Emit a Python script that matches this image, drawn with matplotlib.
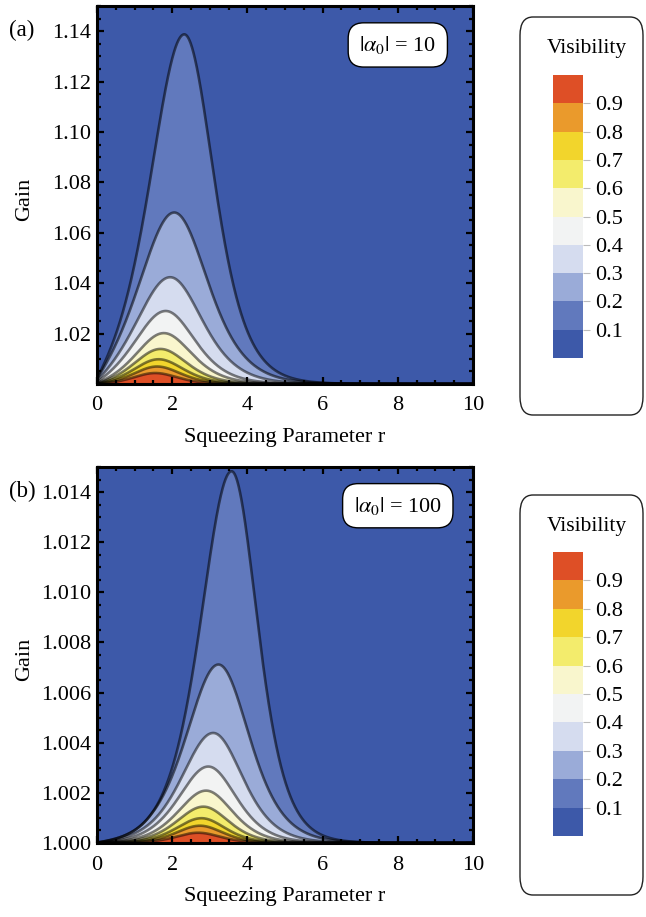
"""Visibility contour maps vs squeezing parameter and gain, two coherent amplitudes."""

import numpy as np
import matplotlib
matplotlib.use("Agg")
import matplotlib.pyplot as plt
from matplotlib.colors import ListedColormap, BoundaryNorm
from matplotlib.cm import ScalarMappable
from matplotlib.patches import FancyBboxPatch
from matplotlib.ticker import MultipleLocator

plt.rcParams['font.family'] = ['Liberation Serif', 'DejaVu Serif']
plt.rcParams['mathtext.fontset'] = 'stix'

# contour levels and band colours (lowest band first)
levels = [0.1, 0.2, 0.3, 0.4, 0.5, 0.6, 0.7, 0.8, 0.9]
band_colors = ['#3d59a9', '#6179bd', '#9aabd8', '#d5dcef', '#f2f3f3',
               '#f9f6cd', '#f3ec6c', '#f2d52c', '#ea9a2c', '#de4f26']
r_ticks = [0, 2, 4, 6, 8, 10]

# panel (a): |alpha0| = 10, contour peaks
gain_ticks_a = [1.02, 1.04, 1.06, 1.08, 1.10, 1.12, 1.14]
peak_r_a = [2.32, 2.05, 1.94, 1.82, 1.77, 1.68, 1.63, 1.59, 1.54]
peak_gain_a = [1.1389, 1.0682, 1.0425, 1.0291, 1.0203, 1.0140, 1.0099, 1.0070, 1.0044]
width_left_a = [1.20, 1.25, 1.20, 1.10, 1.00, 0.95, 0.90, 0.85, 0.80]
width_right_a = [1.05, 1.20, 1.15, 1.05, 1.00, 0.95, 0.90, 0.85, 0.80]

# panel (b): |alpha0| = 100
gain_ticks_b = [1.000, 1.002, 1.004, 1.006, 1.008, 1.010, 1.012, 1.014]
peak_r_b = [3.58, 3.23, 3.09, 2.96, 2.90, 2.83, 2.78, 2.74, 2.69]
peak_gain_b = [1.01483, 1.00712, 1.00439, 1.00305, 1.00209, 1.00145, 1.00099, 1.00069, 1.00041]
width_left_b = [1.10, 1.15, 1.12, 1.05, 1.00, 0.95, 0.90, 0.85, 0.80]
width_right_b = [0.92, 1.10, 1.05, 1.00, 0.95, 0.90, 0.85, 0.82, 0.80]

W, H = 646, 917


def bump(r, c, g0, wl, wr):
    """Contour line shape through a read peak (c, g0) with left/right widths."""
    w = np.where(r < c, wl, wr)
    shape = 1.0 / np.cosh((r - c) / w) ** 2
    return 1.0 + (g0 - 1.0) * shape * (1.0 - 0.8 * np.exp(-r / 0.35))


def draw_panel(top, bottom, ylim, yticks, ymin_step, fmt, peaks_r, peaks_g, wl, wr,
               tag, alpha_label):
    ax = fig.add_axes([97 / W, 1 - bottom / H, 376 / W, (bottom - top) / H])
    ax.set_facecolor(band_colors[0])
    r = np.linspace(0, 10, 800)
    prev = None
    curves = []
    for i in range(len(levels)):
        g = bump(r, peaks_r[i], peaks_g[i], wl[i], wr[i])
        if prev is not None:
            g = np.minimum(g, prev)
        prev = g
        curves.append(g)
        ax.fill_between(r, ylim[0] - 1, g, color=band_colors[i + 1], lw=0)
    for i, g in enumerate(curves):
        ax.plot(r, g, color='black', alpha=0.55 if i < 2 else 0.5, lw=1.9,
                solid_capstyle='round')

    ax.set_xlim(0, 10)
    ax.set_ylim(*ylim)
    ax.set_xticks(r_ticks)
    ax.set_yticks(yticks)
    ax.set_yticklabels([fmt.format(t) for t in yticks])
    ax.xaxis.set_minor_locator(MultipleLocator(0.5))
    ax.yaxis.set_minor_locator(MultipleLocator(ymin_step))
    ax.tick_params(which='both', direction='in', top=True, right=True,
                   labelsize=16, width=1.6, color='black')
    ax.tick_params(which='major', length=5)
    ax.tick_params(which='minor', length=3)
    ax.tick_params(axis='x', pad=9)
    ax.tick_params(axis='y', pad=4)
    for s in ax.spines.values():
        s.set_linewidth(2.2)
    ax.set_xlabel('Squeezing Parameter r', fontsize=16, labelpad=9)

    fig.text(25 / W, 1 - ((top + bottom) / 2 + 4) / H, 'Gain', rotation=90,
             fontsize=16, ha='center', va='center')
    fig.text(22 / W, 1 - (top + 24) / H, tag, fontsize=16.5, ha='center', va='center')

    ax.text(0.80, 0.897, alpha_label, transform=ax.transAxes, fontsize=16,
            ha='center', va='center',
            bbox=dict(boxstyle='round,pad=0.5,rounding_size=0.7', fc='white',
                      ec='black', lw=1.0))
    return ax


def draw_legend(box_top, box_bottom, bar_top, bar_bottom):
    box = FancyBboxPatch((520 / W, 1 - (box_bottom - 2) / H),
                         123 / W, (box_bottom - box_top - 4) / H,
                         boxstyle='round,pad=0,rounding_size=0.02',
                         transform=fig.transFigure, fc='white', ec='#222222', lw=1.0,
                         zorder=-5)
    fig.patches.append(box)
    fig.text(587 / W, 1 - (box_top + 33) / H, 'Visibility', fontsize=15.5,
             ha='center', va='center')
    cax = fig.add_axes([553 / W, 1 - bar_bottom / H, 30 / W, (bar_bottom - bar_top) / H])
    cax.set_zorder(5)
    bounds = [0.0] + levels + [1.0]
    cmap = ListedColormap(band_colors)
    sm = ScalarMappable(norm=BoundaryNorm(bounds, cmap.N), cmap=cmap)
    cb = fig.colorbar(sm, cax=cax, ticks=levels)
    cb.outline.set_visible(False)
    cb.ax.minorticks_off()
    cb.ax.set_yticklabels([f'{v:.1f}' for v in levels])
    cb.ax.tick_params(labelsize=16, length=5, width=0.8, color='#bbbbbb', pad=4)


fig = plt.figure(figsize=(W / 100, H / 100), dpi=100)

draw_panel(6, 384, (1.0, 1.15), gain_ticks_a, 0.005, '{:.2f}',
           peak_r_a, peak_gain_a, width_left_a, width_right_a,
           '(a)', r'$|\alpha_0|$ = 10')
draw_panel(467, 843, (1.0, 1.015), gain_ticks_b, 0.0005, '{:.3f}',
           peak_r_b, peak_gain_b, width_left_b, width_right_b,
           '(b)', r'$|\alpha_0|$ = 100')

draw_legend(15, 417, 75, 358)
draw_legend(493, 897, 552, 836)

fig.savefig('out.png', dpi=100)
